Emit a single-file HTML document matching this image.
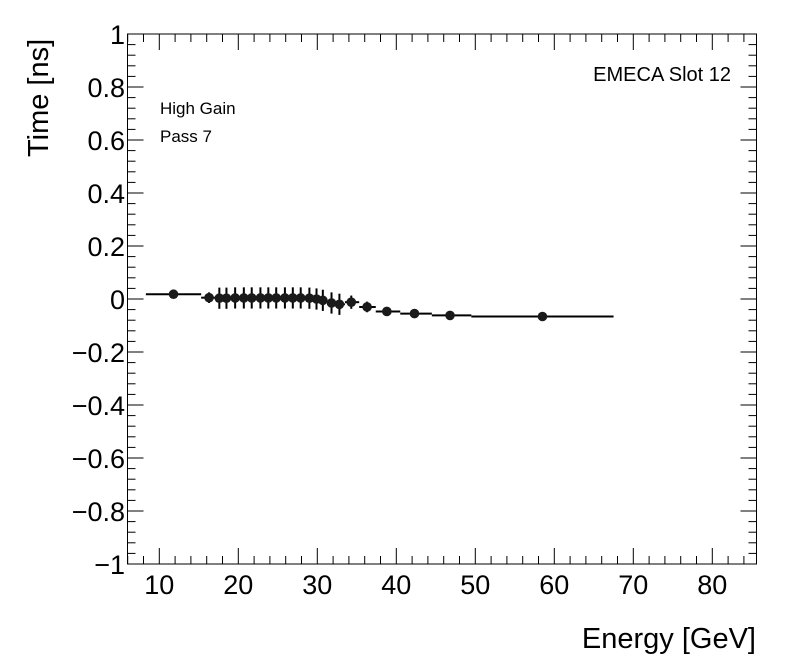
<!DOCTYPE html>
<html><head><meta charset="utf-8"><style>
html,body{margin:0;padding:0;background:#fff;}
svg{display:block;font-family:"Liberation Sans",Arial,sans-serif;}
</style></head><body>
<svg id="chart" width="796" height="672" viewBox="0 0 796 672">
<rect x="127.5" y="34" width="629" height="530" fill="none" stroke="#000" stroke-width="1"/>
<g id="axes"></g>
<g id="marks"></g>
<text transform="translate(48,157) rotate(-90)" font-size="29" text-anchor="start">Time [ns]</text>
<text x="756" y="648" font-size="29" text-anchor="end">Energy [GeV]</text>
<text x="731" y="81" font-size="20" text-anchor="end">EMECA Slot 12</text>
<text x="160" y="114" font-size="17">High Gain</text>
<text x="160" y="142" font-size="17">Pass 7</text>
</svg>
<script>
const energies=[11.8,16.3,17.6,18.5,19.6,20.7,21.7,22.8,23.8,24.8,25.9,26.9,27.9,29.0,29.9,30.7,31.8,32.8,34.3,36.3,38.8,42.3,46.8,58.5];
const times=[0.018,0.005,0.003,0.003,0.004,0.004,0.004,0.004,0.004,0.004,0.004,0.004,0.004,0.003,0.0,-0.005,-0.015,-0.02,-0.012,-0.03,-0.047,-0.055,-0.062,-0.066];
const timeErr=[0.015,0.02,0.04,0.04,0.04,0.04,0.04,0.04,0.04,0.04,0.04,0.04,0.04,0.04,0.04,0.04,0.04,0.04,0.025,0.02,0.015,0.012,0.01,0.01];
const binLo=[8.3,15.3,17.0,18.0,19.0,20.2,21.2,22.3,23.3,24.3,25.4,26.4,27.4,28.5,29.5,30.3,31.3,32.3,33.5,35.3,37.4,40.5,44.5,49.5];
const binHi=[15.3,17.0,18.0,19.0,20.2,21.2,22.3,23.3,24.3,25.4,26.4,27.4,28.5,29.5,30.3,31.3,32.3,33.5,35.3,37.4,40.5,44.5,49.5,67.5];
const xTicks=[10,20,30,40,50,60,70,80];
const yTicks=[1,0.8,0.6,0.4,0.2,0,-0.2,-0.4,-0.6,-0.8,-1];
const NS='http://www.w3.org/2000/svg';
const X0=127.5,X1=756.5,Y0=34,Y1=564;
const xs=e=>159.3+(e-10)*7.9;
const ys=v=>299-v*265;
function mk(tag,attrs,parent){const el=document.createElementNS(NS,tag);for(const k in attrs)el.setAttribute(k,attrs[k]);parent.appendChild(el);return el;}
const axes=document.getElementById('axes');
const marks=document.getElementById('marks');
for(let e=6;e<=85;e+=2){const x=xs(e);const major=(e%10===0);const L=major?16:8;
 let t=mk('line',{x1:x,x2:x,y1:Y1,y2:Y1-L,stroke:'#000'},axes);
 
 let t2=mk('line',{x1:x,x2:x,y1:Y0,y2:Y0+L,stroke:'#000'},axes);
 }
xTicks.forEach(v=>{const t=mk('text',{x:xs(v),y:594,'font-size':27,'text-anchor':'middle'},axes);t.textContent=String(v);
 });
for(let i=-25;i<=25;i++){const v=i*0.04;const y=ys(v);const major=(i%5===0);const L=major?16:8;
 let t=mk('line',{x1:X0,x2:X0+L,y1:y,y2:y,stroke:'#000'},axes);
 
 let t2=mk('line',{x1:X1,x2:X1-L,y1:y,y2:y,stroke:'#000'},axes);
 }
yTicks.forEach(v=>{const t=mk('text',{x:125,y:ys(v)+10,'font-size':27,'text-anchor':'end'},axes);
 t.textContent=(Math.abs(v)<1e-9?'0':(v<0?'\u2212':'')+String(Math.abs(v)));
 });
energies.forEach((e,i)=>{const x=xs(e),y=ys(times[i]);
 const h=mk('line',{x1:xs(binLo[i]),x2:xs(binHi[i]),y1:y,y2:y,stroke:'#000','stroke-width':2},marks);
 
 const v=mk('line',{x1:x,x2:x,y1:ys(times[i]+timeErr[i]),y2:ys(times[i]-timeErr[i]),stroke:'#000','stroke-width':2},marks);
 
 const c=mk('circle',{cx:x,cy:y,r:4.8,fill:'#1a1a1a'},marks);
 });
</script>
</body></html>
